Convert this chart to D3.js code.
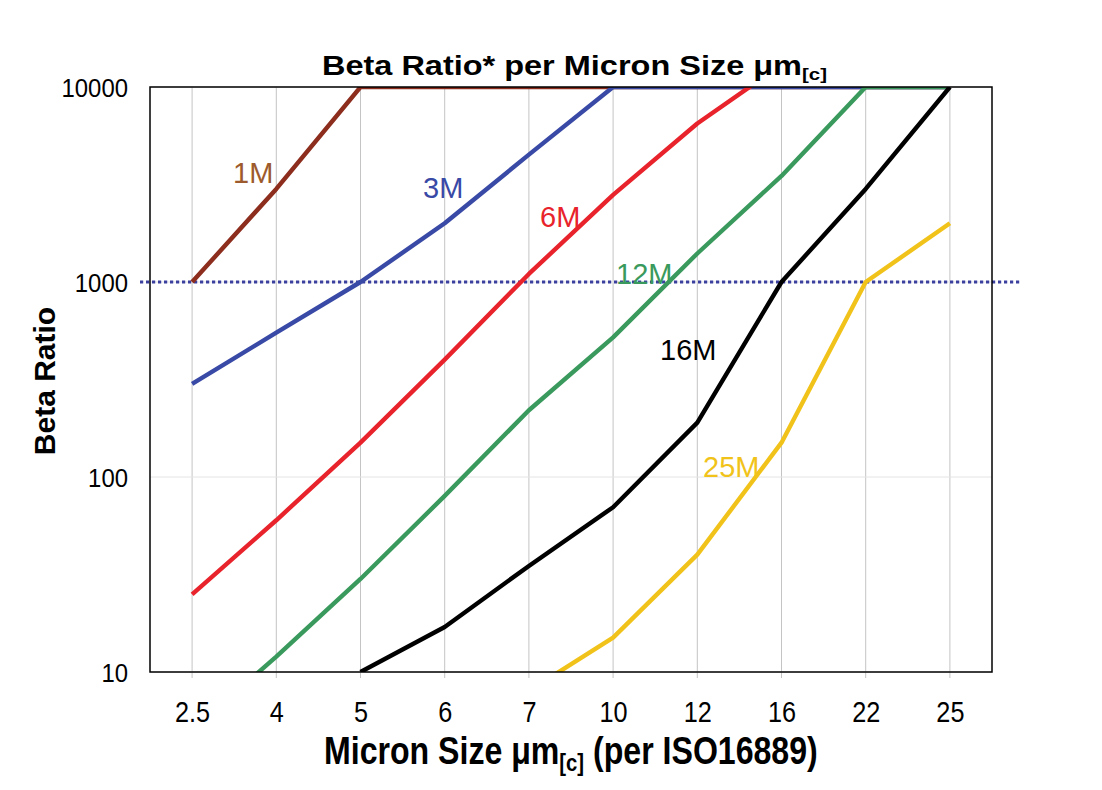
<!DOCTYPE html>
<html><head><meta charset="utf-8">
<script src="https://cdn.jsdelivr.net/npm/d3@7"></script>
<style>body{margin:0;background:#fff}</style>
</head><body><svg id="chart" width="1102" height="790"></svg>
<script>
// ---- data ----
const categories = ["2.5","4","5","6","7","10","12","16","22","25"];
const beta1M  = [1000, 3000, 10000, 10000, 10000, 10000, 10000, 10000, 10000, 10000];
const beta3M  = [300, 550, 1000, 2000, 4500, 10000, 10000, 10000, 10000, 10000];
const beta6M  = [25, 60, 150, 400, 1100, 2800, 6500, 13000, null, null];
const beta12M = [5, 12, 30, 80, 220, 520, 1400, 3500, 10000, 10000];
const beta16M = [null, null, 10, 17, 35, 70, 190, 1000, 3000, 10000];
const beta25M = [null, null, null, null, 8, 15, 40, 150, 1000, 2000];
const seriesNames = ["1M","3M","6M","12M","16M","25M"];
const yTickValues = [10, 100, 1000, 10000];
const referenceBeta = 1000;

// ---- layout / style ----
const svg = d3.select("#chart");
const L = 150, R = 992, T = 87, B = 672;
const x = d3.scalePoint().domain(categories).range([L, R]).padding(0.5);
const y = d3.scaleLog().domain([10, 10000]).range([B, T]);
const font = "'Liberation Sans', Arial, sans-serif";

const series = [
  {name: seriesNames[0], values: beta1M,  line: "#8c2d1d", label: "#9d5b2d", lx: 233, ly: 183},
  {name: seriesNames[1], values: beta3M,  line: "#3949a6", label: "#3949a6", lx: 423, ly: 198},
  {name: seriesNames[2], values: beta6M,  line: "#e8232b", label: "#e8232b", lx: 540, ly: 227},
  {name: seriesNames[3], values: beta12M, line: "#3a9a5d", label: "#3a9a5d", lx: 616, ly: 284},
  {name: seriesNames[4], values: beta16M, line: "#000000", label: "#000000", lx: 660, ly: 360},
  {name: seriesNames[5], values: beta25M, line: "#f1c31a", label: "#f1c31a", lx: 703, ly: 477}
];

function fitText(g, w) {
  const t = g.select("text").node();
  const bw = t.getBBox().width;
  return bw > 0 ? w / bw : 1;
}

// gridlines
const grid = svg.append("g");
grid.selectAll("line.v").data(categories).join("line")
  .attr("x1", d => x(d)).attr("x2", d => x(d))
  .attr("y1", T).attr("y2", B + 6)
  .attr("stroke", "#c4c4c4").attr("stroke-width", 1);
grid.selectAll("line.h").data(yTickValues).join("line")
  .attr("x1", L).attr("x2", R)
  .attr("y1", d => y(d)).attr("y2", d => y(d))
  .attr("stroke", "#e4e4e4").attr("stroke-width", 1);

// clip
svg.append("clipPath").attr("id", "plotclip").append("rect")
  .attr("x", L).attr("y", T).attr("width", R - L).attr("height", B - T);

// reference line at 1000
svg.append("line")
  .attr("x1", 140).attr("x2", 1020)
  .attr("y1", y(referenceBeta)).attr("y2", y(referenceBeta))
  .attr("stroke", "#3b3f9e").attr("stroke-width", 3)
  .attr("stroke-dasharray", "3.2,2.8");

// lines
const lineGen = d3.line()
  .defined(d => d.v != null)
  .x(d => x(d.c)).y(d => y(d.v));
const lines = svg.append("g").attr("clip-path", "url(#plotclip)");
series.forEach(s => {
  const pts = categories.map((c, i) => ({c, v: s.values[i]}));
  lines.append("path").datum(pts)
    .attr("d", lineGen)
    .attr("fill", "none").attr("stroke", s.line)
    .attr("stroke-width", 4.4).attr("stroke-linejoin", "round");
});

// plot frame
svg.append("rect").attr("x", L).attr("y", T).attr("width", R - L).attr("height", B - T)
  .attr("fill", "none").attr("stroke", "#000").attr("stroke-width", 1.5);

// series labels
series.forEach(s => {
  svg.append("text").attr("x", s.lx).attr("y", s.ly)
    .attr("font-family", font).attr("font-size", 29)
    .attr("fill", s.label).text(s.name);
});

// y tick labels
const yAxis = d3.axisLeft(y).tickValues(yTickValues).tickFormat(d3.format("d")).tickSize(0).tickPadding(0);
const yg = svg.append("g").attr("transform", `translate(128,0)`).call(yAxis);
yg.select(".domain").remove();
yg.selectAll("text").attr("font-family", font).attr("font-size", 26).attr("fill", "#000")
  .attr("dy", "0.36em").attr("x", 0)
  .attr("transform", "scale(0.92,1)");

// x tick labels
const xAxis = d3.axisBottom(x).tickSize(0).tickPadding(0);
const xg = svg.append("g").attr("transform", `translate(0,722)`).call(xAxis);
xg.select(".domain").remove();
xg.selectAll("text").attr("font-family", font).attr("font-size", 29).attr("fill", "#000")
  .attr("dy", 0).attr("y", 0)
  .attr("transform", "scale(0.87,1)");

// title
{
  const g = svg.append("g");
  const t = g.append("text").attr("font-family", font).attr("font-weight", "bold")
    .attr("font-size", 27).attr("fill", "#000");
  t.append("tspan").text("Beta Ratio* per Micron Size μm");
  t.append("tspan").attr("font-size", 17).attr("dy", 5).text("[c]");
  const sx = fitText(g, 505);
  g.attr("transform", `translate(322,75) scale(${sx},1)`);
}
// x axis title
{
  const g = svg.append("g");
  const t = g.append("text").attr("font-family", font).attr("font-weight", "bold")
    .attr("font-size", 38).attr("fill", "#000");
  t.append("tspan").text("Micron Size μm");
  t.append("tspan").attr("font-size", 24).attr("dy", 7).text("[c]");
  t.append("tspan").attr("dy", -7).text(" (per ISO16889)");
  const sx = fitText(g, 494);
  g.attr("transform", `translate(324,764) scale(${sx},1)`);
}
// y axis title
svg.append("text")
  .attr("transform", "translate(55,381) rotate(-90)")
  .attr("text-anchor", "middle")
  .attr("font-family", font).attr("font-weight", "bold").attr("font-size", 30)
  .attr("fill", "#000").text("Beta Ratio");
</script>
</body></html>
